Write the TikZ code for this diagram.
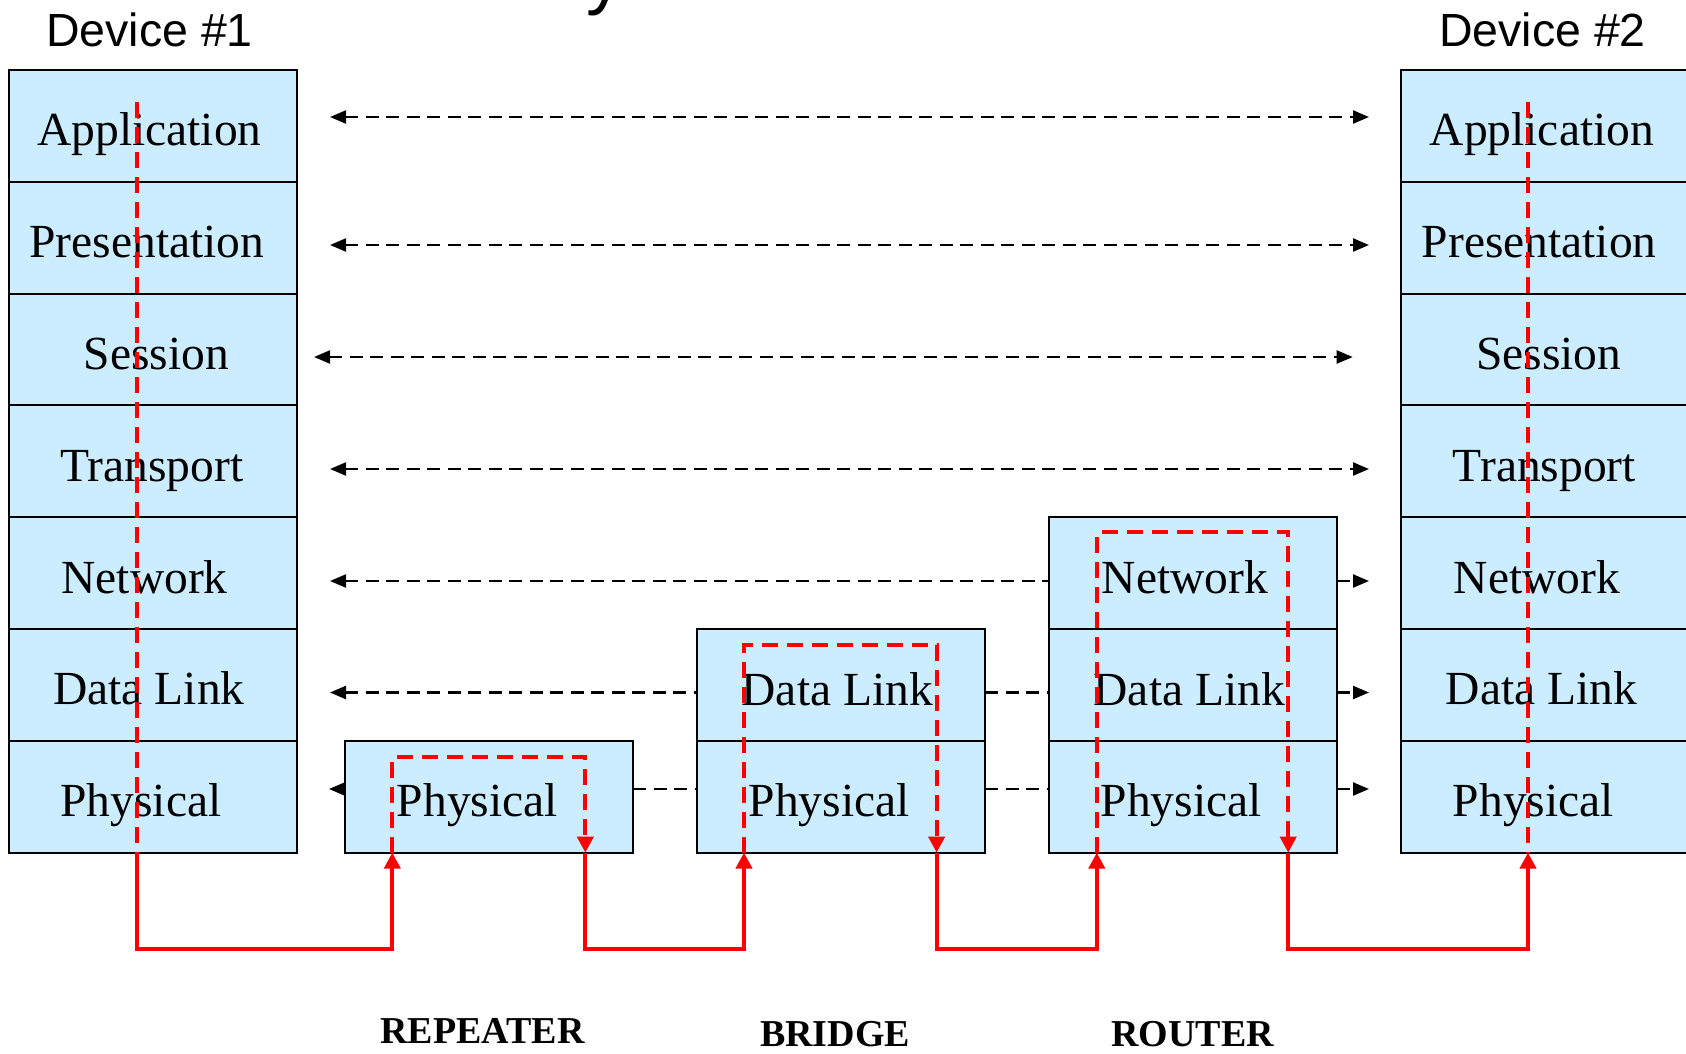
\documentclass[tikz,border=0pt]{standalone}
\usepackage{fontspec}
\setmainfont{Liberation Serif}
\newfontfamily\arialfont{Liberation Sans}
\usetikzlibrary{arrows.meta,calc}
\definecolor{layerblue}{HTML}{CCECFF}
\definecolor{pathred}{HTML}{FF0000}

\begin{document}
\begin{tikzpicture}[x=1pt,y=-1pt,
  layer/.style={draw=black, line width=2pt, fill=layerblue,
    minimum width=288.2pt, minimum height=111.8pt, inner sep=0pt, outer sep=0pt},
  ltext/.style={anchor=base, inner sep=0pt, font=\fontsize{47.5}{57}\selectfont},
  devlabel/.style={anchor=base, inner sep=0pt, font=\arialfont\fontsize{46.5}{56}\selectfont},
  boxlabel/.style={anchor=base, inner sep=0pt, font=\bfseries\fontsize{38}{46}\selectfont},
  blk/.style={draw=black, line width=2.3pt, dash pattern=on 13pt off 7.5pt},
  btip/.tip={Triangle[length=16pt,width=13pt]},
  rtip/.tip={Triangle[length=16pt,width=16pt]},
  rdash/.style={draw=pathred, line width=4pt, dash pattern=on 16pt off 9pt},
  rsolid/.style={draw=pathred, line width=4pt},
]
\clip (0,0) rectangle (1686,1053);

% fragment of the heading above the picture
\node[anchor=base west, inner sep=0pt, font=\arialfont\fontsize{74.6}{80}\selectfont] (heading) at (586,0) {y};

% device labels
\node[devlabel] (dev1) at (149.5,46) {Device \#1};
\node[devlabel] (dev2) at (1542.5,46) {Device \#2};

% full seven-layer stacks of the two end devices
\foreach \n/\lab/\dx [count=\i from 0] in
  {app/Application/-3.2, pre/Presentation/-5.9, ses/Session/3.8,
   tra/Transport/-0.7, net/Network/-8.1, dat/Data Link/-3.7, phy/Physical/-11.7} {
  \node[layer] (d1\n) at (152.7,125.8+111.8*\i) {};
  \node[ltext] (d1\n-t) at ($(d1\n.north)+(\dx,76)$) {\lab};
  \node[layer] (d2\n) at (1545.1,125.8+111.8*\i) {};
  \node[ltext] (d2\n-t) at ($(d2\n.north)+(\dx,76)$) {\lab};
}

% repeater: physical layer only
\node[layer] (repphy) at (489.1,796.7) {};
\node[ltext] (repphy-t) at ($(repphy.north)+(-11.7,76)$) {Physical};

% bridge: data link and physical layers
\node[layer] (brdat) at (841,684.9) {};
\node[ltext] (brdat-t) at ($(brdat.north)+(-3.7,76)$) {Data Link};
\node[layer] (brphy) at (841,796.7) {};
\node[ltext] (brphy-t) at ($(brphy.north)+(-11.7,76)$) {Physical};

% router: network, data link and physical layers
\node[layer] (rtnet) at (1193,573.1) {};
\node[ltext] (rtnet-t) at ($(rtnet.north)+(-8.1,76)$) {Network};
\node[layer] (rtdat) at (1193,684.9) {};
\node[ltext] (rtdat-t) at ($(rtdat.north)+(-3.7,76)$) {Data Link};
\node[layer] (rtphy) at (1193,796.7) {};
\node[ltext] (rtphy-t) at ($(rtphy.north)+(-11.7,76)$) {Physical};

% device names under the intermediate boxes
\node[boxlabel] (lrep) at (482.5,1043.5) {REPEATER};
\node[boxlabel] (lbr) at (835,1046.5) {BRIDGE};
\node[boxlabel] (lrt) at (1192.5,1046.5) {ROUTER};

% peer-to-peer layer conversations
\coordinate (appL) at (330,117);    \coordinate (appR) at (1369,117);
\coordinate (preL) at (330,245);    \coordinate (preR) at (1369,245);
\coordinate (sesL) at (314,357);    \coordinate (sesR) at (1352.7,357);
\coordinate (traL) at (330,469);    \coordinate (traR) at (1369,469);
\coordinate (netL) at (330,581);    \coordinate (netR) at (1369,581);
\coordinate (datL) at (330,692.5);  \coordinate (datR) at (1369,692.5);
\coordinate (phyL) at (329,789);    \coordinate (phyR) at (1369,789);

\draw[blk,{btip}-{btip}] (appL) -- (appR);
\draw[blk,{btip}-{btip}] (preL) -- (preR);
\draw[blk,{btip}-{btip}] (sesL) -- (sesR);
\draw[blk,{btip}-{btip}] (traL) -- (traR);

\draw[blk,{btip}-] (netL) -- (rtnet.west |- netL);
\draw[blk,-{btip}] (rtnet.east |- netL) -- (netR);

\draw[blk,{btip}-] (datL) -- (brdat.west |- datL);
\draw[blk] (brdat.east |- datL) -- (rtdat.west |- datL);
\draw[blk,-{btip}] (rtdat.east |- datL) -- (datR);

\draw[blk,{btip}-] (phyL) -- (repphy.west |- phyL);
\draw[blk] (repphy.east |- phyL) -- (brphy.west |- phyL);
\draw[blk] (brphy.east |- phyL) -- (rtphy.west |- phyL);
\draw[blk,-{btip}] (rtphy.east |- phyL) -- (phyR);

% actual data path through the devices
\coordinate (base) at (0,948.5);
\coordinate (d1top) at (136.6,102.2);   \coordinate (d1out) at (136.6,852.6);
\coordinate (repin) at (392.3,852.6);   \coordinate (repout) at (585.3,852.6);
\coordinate (reptop) at (0,757.3);
\coordinate (brin) at (744,852.6);      \coordinate (brout) at (936.6,852.6);
\coordinate (brtop) at (0,645.2);
\coordinate (rtin) at (1096.8,852.6);   \coordinate (rtout) at (1288.2,852.6);
\coordinate (rttop) at (0,532.3);
\coordinate (d2in) at (1528,852.6);     \coordinate (d2top) at (1528,102.2);

\draw[rdash] (d1top) -- (d1out);
\draw[rsolid,-{rtip}] (d1out) -- (d1out |- base) -- (repin |- base) -- (repin);
\draw[rdash,-{rtip}] (repin) -- (repin |- reptop) -- (repout |- reptop) -- (repout);
\draw[rsolid,-{rtip}] (repout) -- (repout |- base) -- (brin |- base) -- (brin);
\draw[rdash,-{rtip}] (brin) -- (brin |- brtop) -- (brout |- brtop) -- (brout);
\draw[rsolid,-{rtip}] (brout) -- (brout |- base) -- (rtin |- base) -- (rtin);
\draw[rdash,-{rtip}] (rtin) -- (rtin |- rttop) -- (rtout |- rttop) -- (rtout);
\draw[rsolid,-{rtip}] (rtout) -- (rtout |- base) -- (d2in |- base) -- (d2in);
\draw[rdash] (d2top) -- (d2in);
\end{tikzpicture}
\end{document}
